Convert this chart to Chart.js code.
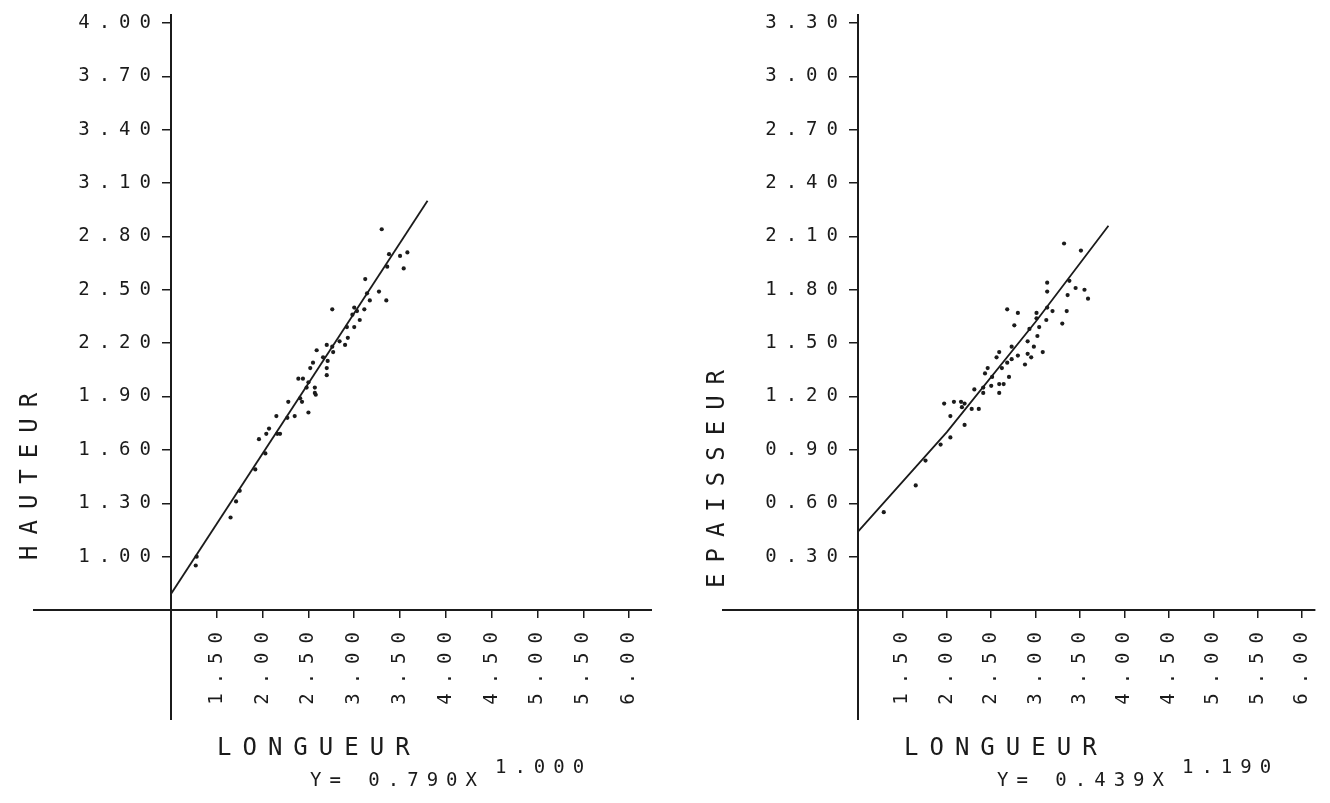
<!DOCTYPE html>
<html>
<head>
<meta charset="utf-8">
<script src="https://cdn.jsdelivr.net/npm/chart.js@4.4.1/dist/chart.umd.min.js"></script>
<style>
  html, body { margin: 0; background: #fff; }
  #wrap { position: relative; width: 1330px; height: 803px; overflow: hidden; }
  canvas { position: absolute; top: 0; }
</style>
</head>
<body>
<div id="wrap">
  <canvas id="hauteur" width="665" height="803" style="left:0"></canvas>
  <canvas id="epaisseur" width="665" height="803" style="left:665px"></canvas>
</div>
<script>
// HAUTEUR / LONGUEUR
const hauteurX = [3.30, 3.38, 3.58, 3.50, 3.54, 3.36, 3.12, 3.27, 3.35, 3.14, 3.17, 2.76, 3.00, 3.03, 3.11, 3.06,
  2.98, 2.92, 3.00, 2.93, 2.84, 2.90, 2.70, 2.76, 2.59, 2.77, 2.66, 2.55, 2.71, 2.52, 2.70, 2.70, 2.39, 2.44,
  2.50, 2.57, 2.48, 2.57, 2.41, 2.28, 2.43, 2.58, 2.50, 2.35, 2.27, 2.15, 2.07, 2.04, 1.96, 2.19, 2.16, 2.03,
  1.92, 1.75, 1.71, 1.65, 1.28, 1.27];
const hauteurY = [2.84, 2.70, 2.71, 2.69, 2.62, 2.63, 2.56, 2.49, 2.44, 2.48, 2.44, 2.39, 2.40, 2.38, 2.39, 2.33,
  2.36, 2.29, 2.29, 2.23, 2.21, 2.19, 2.19, 2.18, 2.16, 2.15, 2.12, 2.09, 2.10, 2.06, 2.06, 2.02, 2.00, 2.00,
  1.98, 1.95, 1.95, 1.92, 1.89, 1.87, 1.87, 1.91, 1.81, 1.79, 1.78, 1.79, 1.72, 1.69, 1.66, 1.69, 1.69, 1.58,
  1.49, 1.37, 1.31, 1.22, 1.00, 0.95];
const hauteurFitX = [1.00, 3.80];
const hauteurFitY = [0.79, 3.00];

// EPAISSEUR / LONGUEUR
const epaisseurX = [3.32, 3.51, 3.38, 3.13, 3.13, 3.45, 3.55, 3.36, 3.59, 2.68, 2.80, 3.01, 3.13, 3.19, 3.35, 2.76,
  3.12, 3.30, 3.01, 3.04, 2.93, 3.02, 2.91, 2.73, 2.98, 3.08, 2.91, 2.95, 2.80, 2.59, 2.56, 2.73, 2.68, 2.88,
  2.62, 2.46, 2.43, 2.70, 2.51, 2.59, 2.64, 2.50, 2.41, 2.59, 2.31, 2.41, 1.97, 2.08, 2.16, 2.17, 2.20, 2.04,
  2.28, 2.36, 2.20, 2.04, 1.93, 1.76, 1.65, 1.29];
const epaisseurY = [2.06, 2.02, 1.85, 1.84, 1.79, 1.81, 1.80, 1.77, 1.75, 1.69, 1.67, 1.67, 1.70, 1.68, 1.68, 1.60,
  1.63, 1.61, 1.64, 1.59, 1.58, 1.54, 1.51, 1.48, 1.48, 1.45, 1.44, 1.42, 1.43, 1.45, 1.42, 1.41, 1.39, 1.38,
  1.36, 1.36, 1.33, 1.31, 1.31, 1.27, 1.27, 1.26, 1.25, 1.22, 1.24, 1.22, 1.16, 1.17, 1.17, 1.14, 1.16, 1.09,
  1.13, 1.13, 1.04, 0.97, 0.93, 0.84, 0.70, 0.55];
const epaisseurFitX = [1.00, 2.00, 3.00, 3.82];
const epaisseurFitY = [0.44, 1.00, 1.62, 2.16];

// tick labels
const longueurTicks = [1.50, 2.00, 2.50, 3.00, 3.50, 4.00, 4.50, 5.00, 5.50, 6.00];
const hauteurTicks = [1.00, 1.30, 1.60, 1.90, 2.20, 2.50, 2.80, 3.10, 3.40, 3.70, 4.00];
const epaisseurTicks = [0.30, 0.60, 0.90, 1.20, 1.50, 1.80, 2.10, 2.40, 2.70, 3.00, 3.30];

const INK = '#1b1b1b';
const MONO = 'DejaVu Sans Mono';
const TICK_SPACING = '9px';

function toPoints(xs, ys) {
  return xs.map((x, i) => ({ x: x, y: ys[i] }));
}

// plotter style: axes crossing and running past the frame, spaced lettering
const plotterAxes = {
  id: 'plotter',
  beforeUpdate(chart) { chart.ctx.letterSpacing = TICK_SPACING; },
  beforeDraw(chart) { chart.ctx.letterSpacing = TICK_SPACING; },
  afterDraw(chart, args, o) {
    const ctx = chart.ctx;
    const area = chart.chartArea;
    ctx.save();
    ctx.strokeStyle = INK;
    ctx.lineWidth = 2;
    ctx.beginPath();
    ctx.moveTo(o.axisFrom, area.bottom);
    ctx.lineTo(area.right, area.bottom);
    ctx.moveTo(area.left, area.top);
    ctx.lineTo(area.left, o.axisTo);
    ctx.stroke();

    ctx.fillStyle = INK;
    ctx.textBaseline = 'alphabetic';
    ctx.textAlign = 'left';

    // titles
    ctx.font = '24px "' + MONO + '"';
    ctx.letterSpacing = '11px';
    ctx.fillText(o.xTitle, area.left + 46, 755);
    ctx.save();
    ctx.translate(area.left - 134, o.yTitleStart);
    ctx.rotate(-Math.PI / 2);
    ctx.fillText(o.yTitle, 0, 0);
    ctx.restore();

    // equation with raised exponent
    ctx.font = '19px "' + MONO + '"';
    ctx.letterSpacing = '8px';
    const eqX = area.left + 139;
    ctx.fillText(o.equation, eqX, 786);
    const w = ctx.measureText(o.equation).width;
    ctx.fillText(o.exponent, eqX + w + 10, 773);
    ctx.restore();
  }
};

function plotChart(id, o) {
  return new Chart(document.getElementById(id), {
    type: 'scatter',
    data: {
      datasets: [
        {
          data: toPoints(o.xs, o.ys),
          pointRadius: 2.1,
          pointBackgroundColor: INK,
          pointBorderWidth: 0
        },
        {
          type: 'line',
          data: toPoints(o.fitX, o.fitY),
          showLine: true,
          borderColor: INK,
          borderWidth: 1.8,
          pointRadius: 0,
          tension: 0,
          fill: false
        }
      ]
    },
    options: {
      responsive: false,
      animation: false,
      events: [],
      layout: { padding: { top: 14, right: o.padRight, left: 0, bottom: 0 } },
      plugins: {
        legend: { display: false },
        tooltip: { enabled: false },
        plotter: o.labels
      },
      scales: {
        x: {
          type: 'linear',
          min: 1.0,
          max: o.xMax,
          afterBuildTicks: s => { s.ticks = longueurTicks.map(v => ({ value: v })); },
          afterFit: s => { s.height = 193; },
          border: { display: false },
          grid: { drawOnChartArea: false, drawTicks: true, tickLength: 8, color: INK, lineWidth: 1.5 },
          ticks: {
            color: INK,
            font: { family: MONO, size: 19 },
            minRotation: 90,
            maxRotation: 90,
            padding: 5,
            callback: v => v.toFixed(2)
          }
        },
        y: {
          type: 'linear',
          min: o.yMin,
          max: o.yMax,
          afterBuildTicks: s => { s.ticks = o.yTicks.map(v => ({ value: v })); },
          afterFit: s => { s.width = o.yWidth; },
          border: { display: false },
          grid: { drawOnChartArea: false, drawTicks: true, tickLength: 9, color: INK, lineWidth: 1.5 },
          ticks: {
            color: INK,
            font: { family: MONO, size: 19 },
            padding: 2,
            callback: v => v.toFixed(2)
          }
        }
      }
    },
    plugins: [plotterAxes]
  });
}

plotChart('hauteur', {
  xs: hauteurX, ys: hauteurY, fitX: hauteurFitX, fitY: hauteurFitY,
  yTicks: hauteurTicks, yMin: 0.70, yMax: 4.05, xMax: 6.25,
  yWidth: 171, padRight: 13,
  labels: {
    axisFrom: 33, axisTo: 720,
    xTitle: 'LONGUEUR', yTitle: 'HAUTEUR', yTitleStart: 560,
    equation: 'Y= 0.790X', exponent: '1.000'
  }
});

plotChart('epaisseur', {
  xs: epaisseurX, ys: epaisseurY, fitX: epaisseurFitX, fitY: epaisseurFitY,
  yTicks: epaisseurTicks, yMin: 0.00, yMax: 3.35, xMax: 6.15,
  yWidth: 193, padRight: 0,
  labels: {
    axisFrom: 57, axisTo: 720,
    xTitle: 'LONGUEUR', yTitle: 'EPAISSEUR', yTitleStart: 588,
    equation: 'Y= 0.439X', exponent: '1.190'
  }
});
</script>
</body>
</html>
